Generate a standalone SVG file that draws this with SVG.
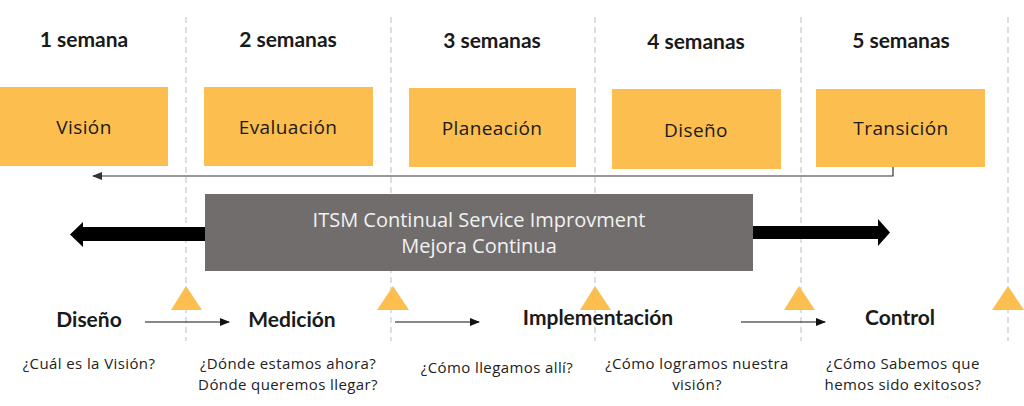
<svg xmlns="http://www.w3.org/2000/svg" width="1024" height="406" viewBox="0 0 1024 406">
<style>
.dash{stroke:#d4d4d4;stroke-width:1.5;stroke-dasharray:6 4;fill:none}
.box{fill:#fbbe4f}
.hdr{font-family:Lato,"Liberation Sans",sans-serif;font-weight:700;font-size:21px;fill:#1a1a1a;text-anchor:middle}
.bt{font-family:"Open Sans","Liberation Sans",sans-serif;font-size:19px;letter-spacing:0.4px;fill:#1a1a1a;text-anchor:middle}
.q{font-family:"Open Sans","Liberation Sans",sans-serif;font-size:15px;letter-spacing:0.4px;fill:#222;text-anchor:middle}
.wt{font-family:"Open Sans","Liberation Sans",sans-serif;font-size:20px;fill:#f2f2f2;text-anchor:middle}
.tri{fill:#fbbe4f}
.ln{stroke:#333;stroke-width:1.2;fill:none}
.sa{stroke:#111;stroke-width:1;fill:none}
</style>
<defs>
<marker id="ah" markerWidth="10" markerHeight="8" refX="9" refY="4" orient="auto" markerUnits="userSpaceOnUse">
<path d="M0,0 L10,4 L0,8 Z" fill="#111"/>
</marker>
<marker id="ah2" markerWidth="10" markerHeight="8" refX="9" refY="4" orient="auto" markerUnits="userSpaceOnUse">
<path d="M0,0 L10,4 L0,8 Z" fill="#333"/>
</marker>
</defs>
<rect width="1024" height="406" fill="#fff"/>
<g id="gridlines">
<line class="dash" x1="186" y1="17" x2="186" y2="341"/>
<line class="dash" x1="391" y1="17" x2="391" y2="341"/>
<line class="dash" x1="595" y1="17" x2="595" y2="341"/>
<line class="dash" x1="801" y1="17" x2="801" y2="341"/>
<line class="dash" x1="1008" y1="17" x2="1008" y2="341"/>
</g>
<g id="headers">
<text class="hdr" x="84" y="47">1 semana</text>
<text class="hdr" x="288" y="47">2 semanas</text>
<text class="hdr" x="492" y="48">3 semanas</text>
<text class="hdr" x="696" y="49">4 semanas</text>
<text class="hdr" x="901" y="48">5 semanas</text>
</g>
<g id="vision"><rect class="box" x="0" y="87" width="168" height="79"/><text class="bt" x="84" y="134">Visión</text></g>
<g id="evaluacion"><rect class="box" x="204" y="87" width="169" height="79"/><text class="bt" x="288" y="134">Evaluación</text></g>
<g id="planeacion"><rect class="box" x="409" y="88" width="167" height="79"/><text class="bt" x="492" y="135">Planeación</text></g>
<g id="diseno"><rect class="box" x="612" y="89" width="169" height="80"/><text class="bt" x="696" y="137">Diseño</text></g>
<g id="transicion"><rect class="box" x="816" y="89" width="169" height="78"/><text class="bt" x="901" y="135">Transición</text></g>
<g id="itsm">
<rect x="205" y="194" width="548" height="77" fill="#716d6c"/>
<text class="wt" x="479" y="227">ITSM Continual Service Improvment</text>
<text class="wt" x="479" y="253">Mejora Continua</text>
</g>
<g id="connectors">
<path class="ln" d="M893,167 V176 H93" marker-end="url(#ah2)"/>
<path d="M205,227 H83 V222 L70,234.5 L83,247 V241 H205 Z" fill="#000"/>
<path d="M753,226 H878 V219 L890,232.5 L878,246 V239 H753 Z" fill="#000"/>
<line class="sa" x1="145" y1="322" x2="229" y2="322" marker-end="url(#ah)"/>
<line class="sa" x1="395" y1="322" x2="479" y2="322" marker-end="url(#ah)"/>
<line class="sa" x1="741" y1="322" x2="825" y2="322" marker-end="url(#ah)"/>
</g>
<g id="milestones">
<polygon class="tri" points="171,310 186,286 202,310"/>
<polygon class="tri" points="377,310 393,286 409,310"/>
<polygon class="tri" points="580,310 595,286 611,310"/>
<polygon class="tri" points="784,310 799,286 815,310"/>
<polygon class="tri" points="992,310 1008,286 1024,310"/>
</g>
<g id="phases">
<text class="hdr" x="89" y="327">Diseño</text>
<text class="hdr" x="292" y="327">Medición</text>
<text class="hdr" x="598" y="325">Implementación</text>
<text class="hdr" x="900" y="325">Control</text>
</g>
<g id="questions">
<text class="q" x="89" y="369">¿Cuál es la Visión?</text>
<text class="q" x="288" y="369">¿Dónde estamos ahora?</text>
<text class="q" x="288" y="390">Dónde queremos llegar?</text>
<text class="q" x="497" y="373">¿Cómo llegamos allí?</text>
<text class="q" x="697" y="369">¿Cómo logramos nuestra</text>
<text class="q" x="697" y="390">visión?</text>
<text class="q" x="903" y="369">¿Cómo Sabemos que</text>
<text class="q" x="903" y="390">hemos sido exitosos?</text>
</g>
</svg>
